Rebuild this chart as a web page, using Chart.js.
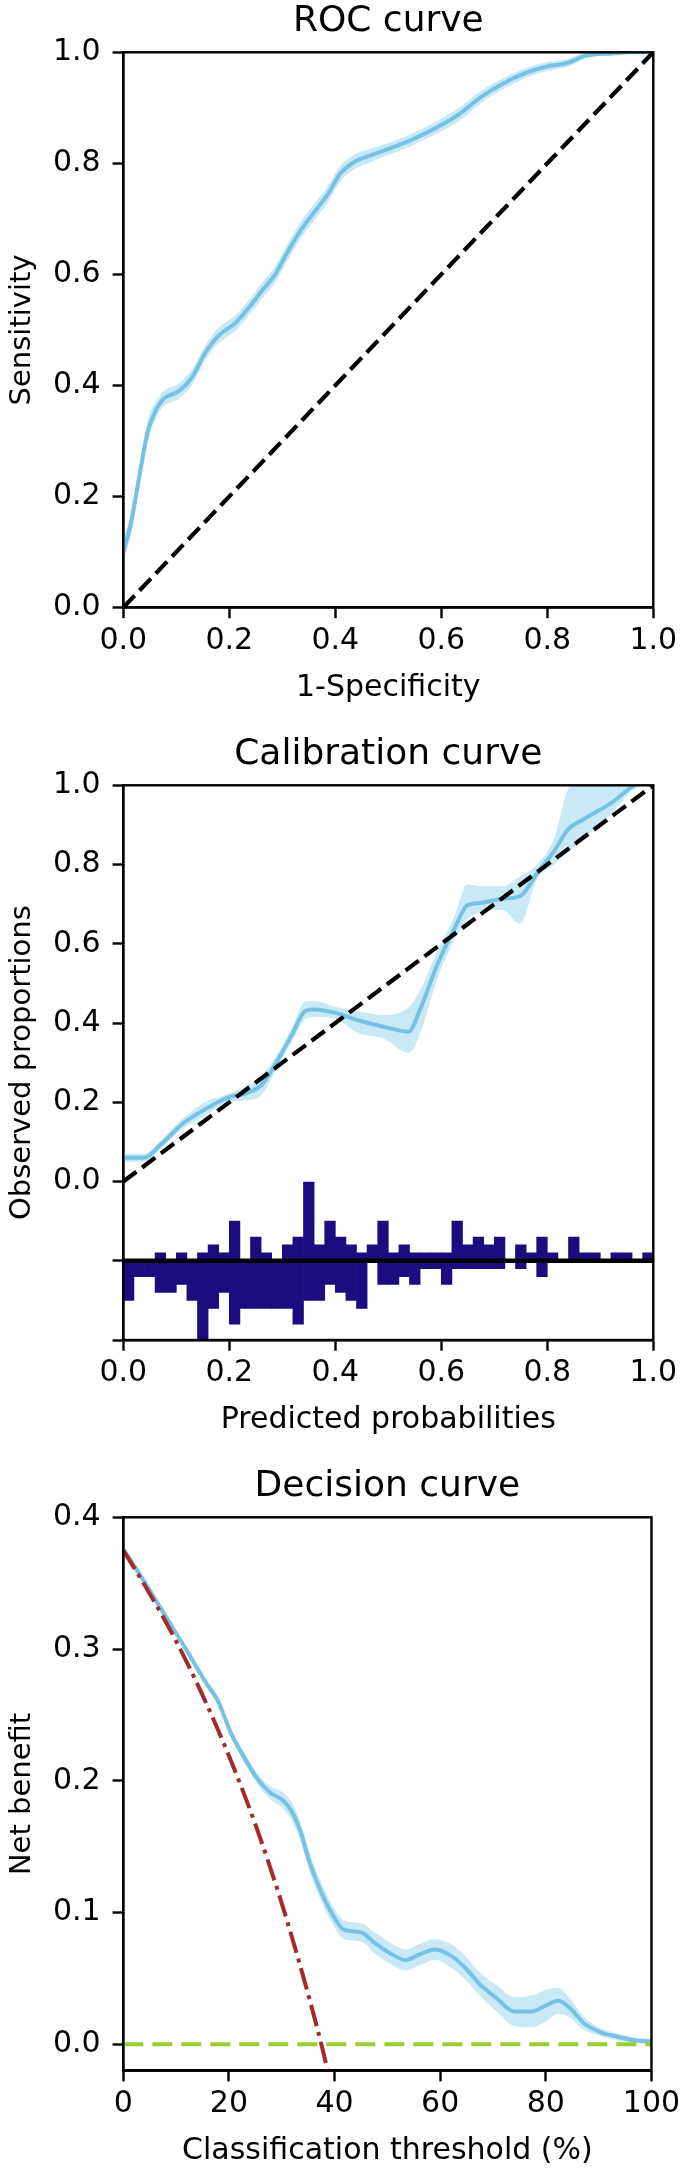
<!DOCTYPE html>
<html>
<head>
<meta charset="utf-8">
<script src="https://cdn.jsdelivr.net/npm/chart.js@4.4.1/dist/chart.umd.min.js"></script>
<style>
  html, body { margin: 0; padding: 0; background: #fff; }
  body { width: 685px; height: 2170px; position: relative; overflow: hidden; }
  canvas { position: absolute; left: 0; }
</style>
</head>
<body>
<canvas id="roc" width="685" height="732" style="top:0px"></canvas>
<canvas id="cal" width="685" height="732" style="top:733px"></canvas>
<canvas id="dec" width="685" height="705" style="top:1465px"></canvas>
<script>
// ROC curve (mean + band)
const rocFpr   = [0, 0.014, 0.03, 0.047, 0.064, 0.076, 0.105, 0.13, 0.154, 0.179, 0.212, 0.237, 0.262, 0.286, 0.311, 0.336, 0.36, 0.385, 0.41, 0.435, 0.468, 0.509, 0.55, 0.592, 0.633, 0.674, 0.715, 0.757, 0.798, 0.839, 0.872, 0.922, 0.955, 1.0];
const rocTpr   = [0.10, 0.15, 0.235, 0.32, 0.36, 0.376, 0.39, 0.415, 0.458, 0.489, 0.513, 0.54, 0.571, 0.599, 0.642, 0.681, 0.712, 0.743, 0.782, 0.802, 0.815, 0.829, 0.845, 0.865, 0.888, 0.919, 0.943, 0.962, 0.974, 0.981, 0.994, 0.998, 1.0, 1.0];
const rocUpper = [0.12, 0.17, 0.255, 0.34, 0.375, 0.39, 0.404, 0.429, 0.472, 0.503, 0.527, 0.554, 0.585, 0.614, 0.657, 0.696, 0.727, 0.758, 0.796, 0.815, 0.827, 0.84, 0.856, 0.876, 0.9, 0.93, 0.953, 0.971, 0.982, 0.988, 0.999, 1.0, 1.0, 1.0];
const rocLower = [0.08, 0.13, 0.215, 0.30, 0.345, 0.362, 0.376, 0.401, 0.444, 0.475, 0.499, 0.526, 0.557, 0.584, 0.627, 0.666, 0.697, 0.728, 0.768, 0.789, 0.803, 0.818, 0.834, 0.854, 0.876, 0.908, 0.933, 0.953, 0.966, 0.974, 0.989, 0.996, 1.0, 1.0];
const refX = [0, 1];
const refY = [0, 1];

// calibration curve
const calPred  = [0, 0.039, 0.072, 0.113, 0.154, 0.196, 0.237, 0.262, 0.295, 0.319, 0.344, 0.361, 0.402, 0.443, 0.493, 0.538, 0.559, 0.592, 0.625, 0.649, 0.674, 0.716, 0.748, 0.781, 0.814, 0.839, 0.872, 0.922, 0.963, 1.0];
const calObs   = [0.06, 0.06, 0.095, 0.147, 0.182, 0.211, 0.225, 0.245, 0.315, 0.373, 0.431, 0.434, 0.425, 0.407, 0.39, 0.378, 0.431, 0.546, 0.639, 0.697, 0.703, 0.714, 0.72, 0.778, 0.836, 0.888, 0.917, 0.957, 1.0, 1.03];
const calUpper = [0.07, 0.07, 0.105, 0.16, 0.20, 0.22, 0.245, 0.27, 0.33, 0.39, 0.455, 0.455, 0.44, 0.43, 0.42, 0.44, 0.48, 0.58, 0.67, 0.75, 0.745, 0.745, 0.77, 0.80, 0.87, 0.99, 1.03, 1.06, 1.08, 1.1];
const calLower = [0.05, 0.05, 0.085, 0.135, 0.165, 0.20, 0.205, 0.22, 0.30, 0.355, 0.41, 0.415, 0.41, 0.375, 0.36, 0.325, 0.37, 0.51, 0.61, 0.66, 0.68, 0.685, 0.65, 0.765, 0.80, 0.83, 0.87, 0.93, 0.99, 1.0];

// histogram of predictions, 50 bins of 0.02 (events up, non-events down)
const eventCounts    = [0, 0, 0, 1, 0, 1, 0, 1, 2, 1, 5, 0, 3, 1, 0, 2, 3, 10, 2, 5, 3, 2, 1, 2, 5, 1, 2, 1, 1, 1, 1, 5, 2, 3, 2, 3, 0, 2, 1, 3, 1, 0, 3, 1, 1, 0, 1, 1, 0, 1];
const nonEventCounts = [5, 2, 2, 4, 4, 3, 5, 10, 6, 4, 8, 6, 6, 6, 6, 6, 8, 5, 5, 3, 4, 5, 6, 0, 3, 3, 2, 3, 1, 1, 3, 1, 1, 1, 1, 1, 0, 1, 0, 2, 0, 0, 0, 0, 0, 0, 0, 0, 0, 0];

// decision curve
const decThreshold = [0, 4, 8, 12, 15.4, 18, 20.4, 23, 25.3, 27.8, 30.3, 32, 33.6, 35.2, 37, 39.4, 41.8, 45, 47.6, 51, 53.4, 56, 59, 62.5, 65, 67.4, 70.7, 74, 77.3, 79.8, 82.3, 84.7, 87.2, 90.5, 93.8, 97, 100];
const decModel     = [0.376, 0.351, 0.325, 0.299, 0.276, 0.26, 0.236, 0.217, 0.202, 0.191, 0.185, 0.176, 0.161, 0.139, 0.12, 0.10, 0.087, 0.085, 0.077, 0.068, 0.064, 0.068, 0.072, 0.066, 0.057, 0.046, 0.035, 0.025, 0.025, 0.029, 0.033, 0.027, 0.016, 0.009, 0.0056, 0.003, 0.002];
const decUpper     = [0.378, 0.353, 0.327, 0.301, 0.279, 0.263, 0.239, 0.221, 0.206, 0.196, 0.191, 0.183, 0.168, 0.146, 0.127, 0.107, 0.094, 0.092, 0.085, 0.076, 0.072, 0.076, 0.080, 0.075, 0.066, 0.055, 0.045, 0.036, 0.037, 0.041, 0.043, 0.034, 0.021, 0.012, 0.008, 0.005, 0.004];
const decLower     = [0.374, 0.349, 0.323, 0.297, 0.273, 0.257, 0.233, 0.213, 0.198, 0.186, 0.179, 0.169, 0.154, 0.132, 0.113, 0.093, 0.080, 0.078, 0.069, 0.060, 0.056, 0.060, 0.064, 0.057, 0.048, 0.037, 0.025, 0.014, 0.013, 0.017, 0.023, 0.020, 0.011, 0.006, 0.003, 0.001, 0.000];
const treatAllX = [0, 5, 10, 15, 20, 25, 30, 35, 37.5, 40];
const treatAllY = [0.375, 0.342, 0.306, 0.265, 0.219, 0.167, 0.107, 0.038, 0.0, -0.042];
const treatNoneX = [0, 100];
const treatNoneY = [0, 0];

// ticks
const unitTicks = [0, 0.2, 0.4, 0.6, 0.8, 1.0];
const unitLabels = ['0.0', '0.2', '0.4', '0.6', '0.8', '1.0'];
const calYTicks = [-0.4, -0.2, 0, 0.2, 0.4, 0.6, 0.8, 1.0];
const calYLabels = ['', '', '0.0', '0.2', '0.4', '0.6', '0.8', '1.0'];
const decXTicks = [0, 20, 40, 60, 80, 100];
const decXLabels = ['0', '20', '40', '60', '80', '100'];
const decYTicks = [0, 0.1, 0.2, 0.3, 0.4];
const decYLabels = ['0.0', '0.1', '0.2', '0.3', '0.4'];

const BLUE = 'rgb(118,194,228)';
const BAND = 'rgba(135,206,235,0.45)';
const NAVY = '#1b0c7f';
const HIST_BASE = -0.2;
const HIST_UNIT = 0.02;
const BIN_W = 0.02;

Chart.defaults.font.family = 'DejaVu Sans';
Chart.defaults.color = '#000';

function pts(xs, ys) {
    return xs.map((x, i) => ({x: x, y: ys[i]}));
}

const frame = {
    id: 'frame',
    afterDatasetsDraw(chart) {
        const {ctx, chartArea} = chart;
        ctx.save();
        ctx.strokeStyle = '#000';
        ctx.lineWidth = 2.4;
        ctx.strokeRect(chartArea.left, chartArea.top, chartArea.right - chartArea.left, chartArea.bottom - chartArea.top);
        ctx.restore();
    }
};

function scaleCfg(o) {
    return {
        type: 'linear',
        min: o.min,
        max: o.max,
        offset: false,
        afterBuildTicks: s => { s.ticks = o.ticks.map(v => ({value: v})); },
        afterFit: s => {
            if (o.width !== undefined) s.width = o.width;
            if (o.height !== undefined) s.height = o.height;
        },
        grid: {display: true, drawOnChartArea: false, offset: false, drawTicks: true, tickLength: 10.7, tickWidth: 2.4, tickColor: '#000', color: '#000'},
        border: {display: true, color: '#000', width: 2.4},
        ticks: {autoSkip: false, maxRotation: 0, minRotation: 0, padding: o.pad, color: '#000', font: {size: 30}, callback: (v, i) => o.labels[i]},
        title: {display: true, text: o.title, color: '#000', font: {size: o.titleSize}, padding: o.titlePad}
    };
}

function baseOptions(title, xs, ys) {
    return {
        responsive: false,
        animation: false,
        devicePixelRatio: 1,
        layout: {padding: {left: 0, right: 31.7, top: 0, bottom: 0}},
        plugins: {
            legend: {display: false},
            tooltip: {enabled: false},
            title: {display: true, text: title, fullSize: false, color: '#000', font: {size: 36, weight: 'normal'}, padding: {top: 0.5, bottom: 8.6}}
        },
        elements: {point: {radius: 0}},
        scales: {x: scaleCfg(xs), y: scaleCfg(ys)}
    };
}

function band(data, fill, order) {
    return {data: data, borderColor: 'rgba(0,0,0,0)', borderWidth: 0, backgroundColor: BAND, fill: fill, cubicInterpolationMode: 'monotone', order: order};
}

// ROC
new Chart(document.getElementById('roc'), {
    type: 'line',
    data: {
        datasets: [
            band(pts(rocFpr, rocUpper), '+1', 6),
            band(pts(rocFpr, rocLower), false, 6),
            {data: pts(rocFpr, rocTpr), borderColor: BLUE, borderWidth: 4, fill: false, cubicInterpolationMode: 'monotone', order: 5},
            {data: pts(refX, refY), borderColor: '#000', borderWidth: 4.2, borderDash: [16.4, 7.1], fill: false, order: 4}
        ]
    },
    options: baseOptions('ROC curve',
        {min: 0, max: 1, ticks: unitTicks, labels: unitLabels, title: '1-Specificity', titleSize: 30, pad: 4.9, height: 124.5, titlePad: {top: 0, bottom: 26.2}},
        {min: 0, max: 1, ticks: unitTicks, labels: unitLabels, title: 'Sensitivity', titleSize: 29, pad: 12, width: 123.3, titlePad: {top: 4.6, bottom: 0}}),
    plugins: [frame]
});

// Calibration
const histUp = eventCounts.map((c, i) => ({x: (i + 0.5) * BIN_W, y: [HIST_BASE, HIST_BASE + c * HIST_UNIT]}));
const histDown = nonEventCounts.map((c, i) => ({x: (i + 0.5) * BIN_W, y: [HIST_BASE - c * HIST_UNIT, HIST_BASE]}));

new Chart(document.getElementById('cal'), {
    type: 'line',
    data: {
        datasets: [
            band(pts(calPred, calUpper), '+1', 6),
            band(pts(calPred, calLower), false, 6),
            {data: pts(calPred, calObs), borderColor: BLUE, borderWidth: 4, fill: false, cubicInterpolationMode: 'monotone', order: 5},
            {data: pts(refX, refY), borderColor: '#000', borderWidth: 4.2, borderDash: [16.4, 7.1], fill: false, order: 4},
            {type: 'bar', data: histUp, backgroundColor: NAVY, borderWidth: 0, barPercentage: 1, categoryPercentage: 1, grouped: false, order: 3},
            {type: 'bar', data: histDown, backgroundColor: NAVY, borderWidth: 0, barPercentage: 1, categoryPercentage: 1, grouped: false, order: 3},
            {data: pts(refX, [HIST_BASE, HIST_BASE]), borderColor: '#000', borderWidth: 4.4, fill: false, order: 2}
        ]
    },
    options: baseOptions('Calibration curve',
        {min: 0, max: 1, ticks: unitTicks, labels: unitLabels, title: 'Predicted probabilities', titleSize: 30, pad: 4.9, height: 125, titlePad: {top: 0, bottom: 26.7}},
        {min: -0.4, max: 1, ticks: calYTicks, labels: calYLabels, title: 'Observed proportions', titleSize: 29, pad: 12, width: 123.3, titlePad: {top: 4.6, bottom: 0}}),
    plugins: [frame]
});

// Decision
new Chart(document.getElementById('dec'), {
    type: 'line',
    data: {
        datasets: [
            {data: pts(treatAllX, treatAllY), borderColor: '#a52a2a', borderWidth: 4, borderDash: [22, 6, 4, 6], fill: false, cubicInterpolationMode: 'monotone', order: 2},
            {data: pts(treatNoneX, treatNoneY), borderColor: '#9acd32', borderWidth: 4, borderDash: [20, 9], fill: false, order: 3},
            {data: pts(decThreshold, decModel), borderColor: BLUE, borderWidth: 4, fill: false, cubicInterpolationMode: 'monotone', order: 5},
            band(pts(decThreshold, decUpper), '+1', 6),
            band(pts(decThreshold, decLower), false, 6)
        ]
    },
    options: baseOptions('Decision curve',
        {min: 0, max: 100, ticks: decXTicks, labels: decXLabels, title: 'Classification threshold (%)', titleSize: 30, pad: 4.9, height: 99.3, titlePad: {top: 0, bottom: 1.0}},
        {min: -0.02, max: 0.4, ticks: decYTicks, labels: decYLabels, title: 'Net benefit', titleSize: 29, pad: 12, width: 123.3, titlePad: {top: 4.6, bottom: 0}}),
    plugins: [frame]
});
</script>
</body>
</html>
